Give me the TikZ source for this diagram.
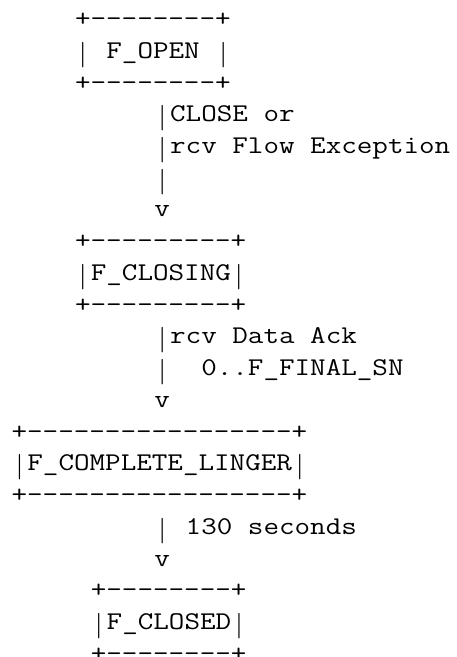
\documentclass[tikz,border=0pt]{standalone}
\usepackage{graphicx}
\newcount\dashcnt
\newcommand\dashes[1]{\dashcnt=0 \loop\ifnum\dashcnt<#1 -\kern0pt\advance\dashcnt by 1 \repeat}
\newcommand\vb{\makebox[0.525em]{\raisebox{-3pt}{\rmfamily|}}}
\tikzset{txt/.style={anchor=base west, inner sep=0pt, outer sep=0pt, font=\ttfamily\fontsize{25.5}{30}\selectfont}}
\newcommand\aline[4]{\node[txt] (#1) at ({11.57+#2*15.86},{657-(26.6+(#3-1)*31.73)}) {\scalebox{1.185}[1]{#4}};}
\begin{document}
\begin{tikzpicture}[x=1pt,y=1pt]
\fill[white] (0,0) rectangle (456,657);
\useasboundingbox (0,0) rectangle (456,657);
\aline{l1}{4}{1}{+\dashes{8}+}
\aline{l2}{4}{2}{\vb\ F\_OPEN\ \vb}
\aline{l3}{4}{3}{+\dashes{8}+}
\aline{l4}{9}{4}{\vb CLOSE\ or}
\aline{l5}{9}{5}{\vb rcv\ Flow\ Exception}
\aline{l6}{9}{6}{\vb}
\aline{l7}{9}{7}{v}
\aline{l8}{4}{8}{+\dashes{9}+}
\aline{l9}{4}{9}{\vb F\_CLOSING\vb}
\aline{l10}{4}{10}{+\dashes{9}+}
\aline{l11}{9}{11}{\vb rcv\ Data\ Ack}
\aline{l12}{9}{12}{\vb\ \ 0..F\_FINAL\_SN}
\aline{l13}{9}{13}{v}
\aline{l14}{0}{14}{+\dashes{17}+}
\aline{l15}{0}{15}{\vb F\_COMPLETE\_LINGER\vb}
\aline{l16}{0}{16}{+\dashes{17}+}
\aline{l17}{9}{17}{\vb\ 130\ seconds}
\aline{l18}{9}{18}{v}
\aline{l19}{5}{19}{+\dashes{8}+}
\aline{l20}{5}{20}{\vb F\_CLOSED\vb}
\aline{l21}{5}{21}{+\dashes{8}+}
\end{tikzpicture}
\end{document}
